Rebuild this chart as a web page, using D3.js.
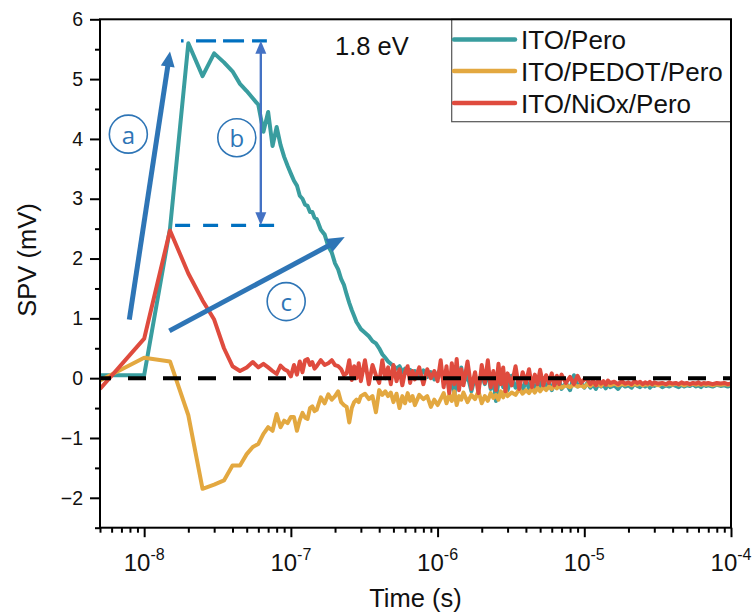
<!DOCTYPE html>
<html>
<head>
<meta charset="utf-8">
<script src="https://cdn.jsdelivr.net/npm/d3@7/dist/d3.min.js"></script>
<style>
  html, body { margin: 0; padding: 0; background: #fff; }
  svg { display: block; }
  text { font-family: "Liberation Sans", Arial, sans-serif; fill: #111; }
</style>
</head>
<body>
<svg id="chart" width="753" height="616"></svg>
<script>
// Sampling times (s): 5 ns steps to 100 ns, then sparser per decade
const timeSec = [
  5e-9, 1e-8, 1.5e-8, 2e-8, 2.5e-8, 3e-8, 3.5e-8, 4e-8, 4.5e-8, 5e-8,
  5.5e-8, 6e-8, 6.5e-8, 7e-8, 7.5e-8, 8e-8, 8.5e-8, 9e-8, 9.5e-8, 1e-7,

  1.05e-7, 1.1e-7, 1.15e-7, 1.2e-7, 1.25e-7, 1.3e-7, 1.35e-7, 1.4e-7, 1.45e-7, 1.5e-7,
  1.6e-7, 1.7e-7, 1.8e-7, 1.9e-7, 2e-7, 2.1e-7, 2.2e-7, 2.3e-7, 2.4e-7, 2.5e-7,
  2.6e-7, 2.7e-7, 2.8e-7, 2.9e-7, 3e-7, 3.2e-7, 3.4e-7, 3.6e-7, 3.8e-7, 4e-7,
  4.2e-7, 4.4e-7, 4.6e-7, 4.8e-7, 5e-7, 5.25e-7, 5.5e-7, 5.75e-7, 6e-7, 6.25e-7,
  6.5e-7, 6.75e-7, 7e-7, 7.5e-7, 8e-7, 8.5e-7, 9e-7, 9.5e-7, 1e-6,

  1.05e-6, 1.1e-6, 1.15e-6, 1.2e-6, 1.25e-6, 1.3e-6, 1.35e-6, 1.4e-6, 1.45e-6, 1.5e-6,
  1.6e-6, 1.7e-6, 1.8e-6, 1.9e-6, 2e-6, 2.1e-6, 2.2e-6, 2.3e-6, 2.4e-6, 2.5e-6,
  2.6e-6, 2.7e-6, 2.8e-6, 2.9e-6, 3e-6, 3.2e-6, 3.4e-6, 3.6e-6, 3.8e-6, 4e-6,
  4.2e-6, 4.4e-6, 4.6e-6, 4.8e-6, 5e-6, 5.25e-6, 5.5e-6, 5.75e-6, 6e-6, 6.25e-6,
  6.5e-6, 6.75e-6, 7e-6, 7.5e-6, 8e-6, 8.5e-6, 9e-6, 9.5e-6, 1e-5,

  1.05e-5, 1.1e-5, 1.15e-5, 1.2e-5, 1.25e-5, 1.3e-5, 1.35e-5, 1.4e-5, 1.45e-5, 1.5e-5,
  1.6e-5, 1.7e-5, 1.8e-5, 1.9e-5, 2e-5, 2.1e-5, 2.2e-5, 2.3e-5, 2.4e-5, 2.5e-5,
  2.6e-5, 2.7e-5, 2.8e-5, 2.9e-5, 3e-5, 3.2e-5, 3.4e-5, 3.6e-5, 3.8e-5, 4e-5,
  4.2e-5, 4.4e-5, 4.6e-5, 4.8e-5, 5e-5, 5.25e-5, 5.5e-5, 5.75e-5, 6e-5, 6.25e-5,
  6.5e-5, 6.75e-5, 7e-5, 7.5e-5, 8e-5, 8.5e-5, 9e-5, 9.5e-5, 1e-4
];

// SPV (mV) for ITO/Pero
const spvPero = [
  0.05, 0.05, 2.50, 5.60, 5.05, 5.43, 5.28, 5.13, 4.92, 4.80,
  4.68, 4.57, 4.12, 4.45, 3.88, 4.20, 3.90, 3.70, 3.55, 3.42,

  3.30, 3.22, 3.05, 3.00, 2.90, 2.88, 2.78, 2.78, 2.68, 2.66,
  2.48, 2.40, 2.20, 2.10, 1.92, 1.82, 1.66, 1.56, 1.40, 1.26,
  1.14, 1.04, 0.94, 0.88, 0.82, 0.76, 0.70, 0.62, 0.58, 0.50,
  0.40, 0.34, 0.28, 0.24, 0.20, 0.16, 0.20, 0.10, 0.16, 0.08,
  0.14, 0.06, 0.12, 0.04, 0.13, 0.02, 0.10, -0.02, 0.08,

  0.15, -0.05, 0.12, -0.20, 0.05, -0.30, 0.10, -0.12, 0.18, -0.08,
  0.05, -0.22, 0.02, -0.15, 0.06, -0.10, 0.12, -0.18, 0.00, -0.38,
  -0.05, 0.10, -0.15, -0.02, -0.20, 0.04, -0.16, -0.05, -0.22, -0.02,
  -0.18, -0.06, -0.20, -0.08, -0.15, 0.00, -0.18, -0.06, -0.20, -0.10,
  -0.16, -0.04, -0.18, -0.08, -0.20, 0.05, -0.14, -0.08, -0.16,

  -0.08, -0.16, -0.10, -0.18, -0.09, -0.14, -0.11, -0.17, -0.10, -0.15,
  -0.12, -0.18, -0.10, -0.14, -0.12, -0.16, -0.09, -0.13, -0.15, -0.11,
  -0.14, -0.10, -0.16, -0.12, -0.13, -0.10, -0.15, -0.12, -0.14, -0.11,
  -0.13, -0.15, -0.11, -0.14, -0.12, -0.13, -0.10, -0.14, -0.12, -0.15,
  -0.11, -0.13, -0.12, -0.14, -0.11, -0.13, -0.12, -0.14, -0.12
];

// SPV (mV) for ITO/PEDOT/Pero
const spvPedot = [
  -0.04, 0.34, 0.28, -0.62, -1.85, -1.78, -1.71, -1.46, -1.46, -1.27,
  -1.15, -1.10, -0.93, -0.82, -0.88, -0.60, -0.82, -0.71, -0.75, -0.65,

  -0.65, -0.88, -0.70, -0.58, -0.66, -0.68, -0.50, -0.47, -0.55, -0.53,
  -0.32, -0.42, -0.27, -0.36, -0.30, -0.22, -0.40, -0.45, -0.48, -0.74,
  -0.50, -0.40, -0.36, -0.40, -0.30, -0.26, -0.35, -0.30, -0.57, -0.20,
  -0.28, -0.22, -0.30, -0.24, -0.40, -0.26, -0.50, -0.30, -0.42, -0.25,
  -0.38, -0.30, -0.45, -0.28, -0.35, -0.30, -0.48, -0.36, -0.45,

  -0.35, -0.25, -0.42, -0.28, -0.38, -0.22, -0.45, -0.30, -0.36, -0.24,
  -0.40, -0.28, -0.35, -0.22, -0.42, -0.30, -0.38, -0.25, -0.33, -0.28,
  -0.36, -0.22, -0.32, -0.20, -0.30, -0.24, -0.28, -0.18, -0.26, -0.20,
  -0.25, -0.17, -0.24, -0.16, -0.22, -0.15, -0.20, -0.14, -0.18, -0.13,
  -0.17, -0.12, -0.16, -0.12, -0.15, -0.11, -0.14, -0.12, -0.15,

  -0.10, -0.13, -0.09, -0.12, -0.10, -0.13, -0.08, -0.11, -0.10, -0.12,
  -0.09, -0.12, -0.10, -0.11, -0.09, -0.12, -0.10, -0.11, -0.09, -0.12,
  -0.10, -0.11, -0.09, -0.11, -0.10, -0.12, -0.09, -0.11, -0.10, -0.11,
  -0.09, -0.11, -0.10, -0.12, -0.10, -0.11, -0.09, -0.11, -0.10, -0.11,
  -0.10, -0.11, -0.10, -0.12, -0.10, -0.11, -0.10, -0.11, -0.10
];

// SPV (mV) for ITO/NiOx/Pero
const spvNiox = [
  -0.18, 0.66, 2.47, 1.75, 1.30, 0.98, 0.50, 0.20, 0.12, 0.18,
  0.27, 0.18, 0.24, 0.18, 0.12, 0.07, 0.21, 0.15, 0.12, 0.03,

  0.22, 0.06, 0.28, 0.10, 0.30, 0.32, 0.22, 0.27, 0.16, 0.20,
  0.30, 0.22, 0.25, 0.30, 0.22, 0.20, 0.15, 0.05, 0.08, 0.30,
  -0.03, 0.20, 0.00, 0.25, -0.05, 0.30, -0.10, 0.22, 0.05, -0.08,
  0.30, 0.00, 0.18, -0.10, 0.22, -0.05, 0.15, -0.12, 0.10, 0.20,
  -0.08, 0.12, -0.02, 0.18, -0.10, 0.15, 0.00, 0.12, -0.05,

  0.30, -0.15, 0.20, -0.25, 0.25, -0.10, 0.32, -0.20, 0.15, -0.12,
  0.28, -0.18, 0.10, -0.25, 0.22, -0.08, 0.30, -0.15, 0.12, -0.20,
  0.24, -0.10, 0.18, -0.22, 0.08, -0.12, 0.20, -0.18, 0.10, -0.08,
  0.15, -0.15, 0.06, -0.10, 0.14, -0.12, 0.05, -0.08, 0.08, -0.12,
  0.04, -0.10, 0.06, -0.08, 0.02, -0.10, 0.04, -0.08, -0.02,

  -0.02, -0.10, -0.04, -0.12, -0.03, -0.09, -0.05, -0.11, -0.04, -0.08,
  -0.06, -0.10, -0.05, -0.09, -0.07, -0.10, -0.05, -0.08, -0.06, -0.10,
  -0.07, -0.09, -0.06, -0.10, -0.07, -0.09, -0.08, -0.10, -0.07, -0.09,
  -0.08, -0.10, -0.07, -0.09, -0.08, -0.10, -0.08, -0.09, -0.07, -0.10,
  -0.08, -0.09, -0.08, -0.10, -0.08, -0.09, -0.08, -0.10, -0.09
];

const seriesNames = ["ITO/Pero", "ITO/PEDOT/Pero", "ITO/NiOx/Pero"];
const seriesColors = ["#399d9f", "#e3a840", "#df4b3e"];
const yTickValues = [-2, -1, 0, 1, 2, 3, 4, 5, 6];
const xTickExponents = [-8, -7, -6, -5, -4];

[spvPero, spvPedot, spvNiox].forEach((arr, i) => {
  if (arr.length !== timeSec.length) {
    throw new Error(seriesNames[i] + " length " + arr.length + " vs " + timeSec.length);
  }
});

const svg = d3.select("#chart");
const plotLeft = 100, plotRight = 731, plotTop = 19.3, plotBottom = 527.7;

const x = d3.scaleLog().domain([5e-9, 1e-4]).range([plotLeft, plotRight]);
const y = d3.scaleLinear().domain([-2.5, 6]).range([plotBottom, plotTop]);

// Clip curves to the plotting frame
svg.append("defs").append("clipPath").attr("id", "plotClip")
  .append("rect").attr("x", plotLeft).attr("y", plotTop)
  .attr("width", plotRight - plotLeft).attr("height", plotBottom - plotTop);

const line = d3.line()
  .x(d => x(d[0]))
  .y(d => y(d[1]))
  .curve(d3.curveLinear);

const plot = svg.append("g").attr("clip-path", "url(#plotClip)");
[spvPero, spvPedot, spvNiox].forEach((vals, i) => {
  plot.append("path")
    .datum(d3.zip(timeSec, vals))
    .attr("fill", "none")
    .attr("stroke", seriesColors[i])
    .attr("stroke-width", 4)
    .attr("stroke-linejoin", "round")
    .attr("d", line);
});

// Zero reference line
plot.append("line")
  .attr("x1", plotLeft).attr("x2", plotRight)
  .attr("y1", y(0)).attr("y2", y(0))
  .attr("stroke", "#000").attr("stroke-width", 4)
  .attr("stroke-dasharray", "18,17").attr("stroke-dashoffset", 7);

// ---- annotations ----
const annBlue = "#2e75b6";
const annDash = "#0070c0";
const annB = "#4472c4";

function arrow(g, t0, v0, t1, v1, color, width, headLen, headW) {
  const x0 = x(t0), y0 = y(v0), x1 = x(t1), y1 = y(v1);
  const dx = x1 - x0, dy = y1 - y0, L = Math.hypot(dx, dy);
  const ux = dx / L, uy = dy / L;
  const bx = x1 - ux * headLen, by = y1 - uy * headLen;
  g.append("line").attr("x1", x0).attr("y1", y0)
    .attr("x2", bx + ux * 1).attr("y2", by + uy * 1)
    .attr("stroke", color).attr("stroke-width", width);
  g.append("path")
    .attr("d", `M${x1},${y1} L${bx - uy * headW / 2},${by + ux * headW / 2} L${bx + uy * headW / 2},${by - ux * headW / 2} Z`)
    .attr("fill", color);
}

const ann = svg.append("g");

// dashed guides at the peak and onset levels
ann.append("line")
  .attr("x1", x(1.784e-8)).attr("x2", x(6.86e-8))
  .attr("y1", y(5.64)).attr("y2", y(5.64))
  .attr("stroke", annDash).attr("stroke-width", 3.2)
  .attr("stroke-dasharray", "2.5,12.5,20,7,21,8,20");
ann.append("line")
  .attr("x1", x(1.625e-8)).attr("x2", x(7.69e-8))
  .attr("y1", y(2.555)).attr("y2", y(2.555))
  .attr("stroke", annDash).attr("stroke-width", 3.2)
  .attr("stroke-dasharray", "15,13");

// double-headed amplitude arrow
(function () {
  const xb = x(6.24e-8), yt = y(5.64), yb = y(2.555);
  const hl = 13, hw = 11;
  ann.append("line").attr("x1", xb).attr("x2", xb)
    .attr("y1", yt + hl - 1).attr("y2", yb - hl + 1)
    .attr("stroke", annB).attr("stroke-width", 2.4);
  ann.append("path").attr("d", `M${xb},${yt} L${xb - hw / 2},${yt + hl} L${xb + hw / 2},${yt + hl} Z`).attr("fill", annB);
  ann.append("path").attr("d", `M${xb},${yb} L${xb - hw / 2},${yb - hl} L${xb + hw / 2},${yb - hl} Z`).attr("fill", annB);
})();

arrow(ann, 7.92e-9, 0.98, 1.5e-8, 5.46, annBlue, 5, 15, 14);
arrow(ann, 1.485e-8, 0.79, 2.33e-7, 2.36, annBlue, 5, 18, 15);

// circled step labels
[["a", 7.8e-9, 4.08], ["b", 4.28e-8, 4.02], ["c", 9.29e-8, 1.28]].forEach(([s, t, v]) => {
  ann.append("circle").attr("cx", x(t)).attr("cy", y(v)).attr("r", 19)
    .attr("fill", "none").attr("stroke", annBlue).attr("stroke-width", 1.6);
  ann.append("text").attr("x", x(t)).attr("y", y(v))
    .attr("text-anchor", "middle").attr("dominant-baseline", "central")
    .style("font-family", "'Open Sans', 'Noto Sans', sans-serif")
    .style("font-size", "24px").style("fill", annBlue)
    .text(s);
});

// photon energy label
svg.append("text").attr("x", x(2.0e-7)).attr("y", y(5.4))
  .style("font-size", "25.5px").text("1.8 eV");

// ---- legend ----
const legend = svg.append("g");
legend.append("rect").attr("x", 451.7).attr("y", plotTop).attr("width", plotRight - 451.7).attr("height", 102.4)
  .attr("fill", "#fff").attr("stroke", "#555").attr("stroke-width", 1.2);
const legendRows = [39.5, 71, 103];
seriesNames.forEach((name, i) => {
  legend.append("line").attr("x1", 454).attr("x2", 515)
    .attr("y1", legendRows[i]).attr("y2", legendRows[i])
    .attr("stroke", seriesColors[i]).attr("stroke-width", 4.5).attr("stroke-linecap", "round");
  legend.append("text").attr("x", 521).attr("y", legendRows[i] + 9.5)
    .style("font-size", "26px").text(name);
});

// ---- frame and axes ----
svg.append("rect").attr("x", plotLeft).attr("y", plotTop)
  .attr("width", plotRight - plotLeft).attr("height", plotBottom - plotTop)
  .attr("fill", "none").attr("stroke", "#000").attr("stroke-width", 2);

// y axis: major labelled ticks and half-unit minor ticks
const yAxis = svg.append("g").attr("transform", `translate(${plotLeft},0)`)
  .call(d3.axisLeft(y).tickValues(yTickValues).tickSize(10).tickPadding(7).tickFormat(d3.format("d")));
yAxis.select(".domain").remove();
yAxis.selectAll("line").attr("stroke-width", 2);
yAxis.selectAll("text").style("font-size", "19.5px").style("font-family", "'Liberation Sans', Arial, sans-serif").attr("fill", "#111");

const yMinor = svg.append("g").attr("transform", `translate(${plotLeft},0)`)
  .call(d3.axisLeft(y).tickValues(d3.range(-2.5, 6, 1)).tickSize(5).tickFormat(""));
yMinor.select(".domain").remove();
yMinor.selectAll("line").attr("stroke-width", 2);

// x axis: decades labelled as powers of ten
const allXTicks = x.ticks();
const majorX = xTickExponents.map(e => Math.pow(10, e));
const isMajor = t => Math.abs(Math.log10(t) - Math.round(Math.log10(t))) < 1e-9;
const minorX = allXTicks.filter(t => !isMajor(t) && t >= 5e-9);

const xMinor = svg.append("g").attr("transform", `translate(0,${plotBottom})`)
  .call(d3.axisBottom(x).tickValues(minorX).tickSize(5).tickFormat(""));
xMinor.select(".domain").remove();
xMinor.selectAll("line").attr("stroke-width", 2);

const xAxis = svg.append("g").attr("transform", `translate(0,${plotBottom})`)
  .call(d3.axisBottom(x).tickValues(majorX).tickSize(9.5).tickFormat(""));
xAxis.select(".domain").remove();
xAxis.selectAll("line").attr("stroke-width", 2);

xTickExponents.forEach(e => {
  const t = svg.append("text").attr("x", x(Math.pow(10, e))).attr("y", 570.5)
    .attr("text-anchor", "middle");
  t.append("tspan").style("font-size", "24px").text("10");
  t.append("tspan").style("font-size", "16px").attr("dy", -11).text(String(e));
});

// axis titles
svg.append("text").attr("x", (plotLeft + plotRight) / 2).attr("y", 607)
  .attr("text-anchor", "middle").style("font-size", "25.5px").text("Time (s)");
svg.append("text").attr("transform", "translate(36,260) rotate(-90)")
  .attr("text-anchor", "middle").style("font-size", "25.5px").text("SPV (mV)");
</script>
</body>
</html>
